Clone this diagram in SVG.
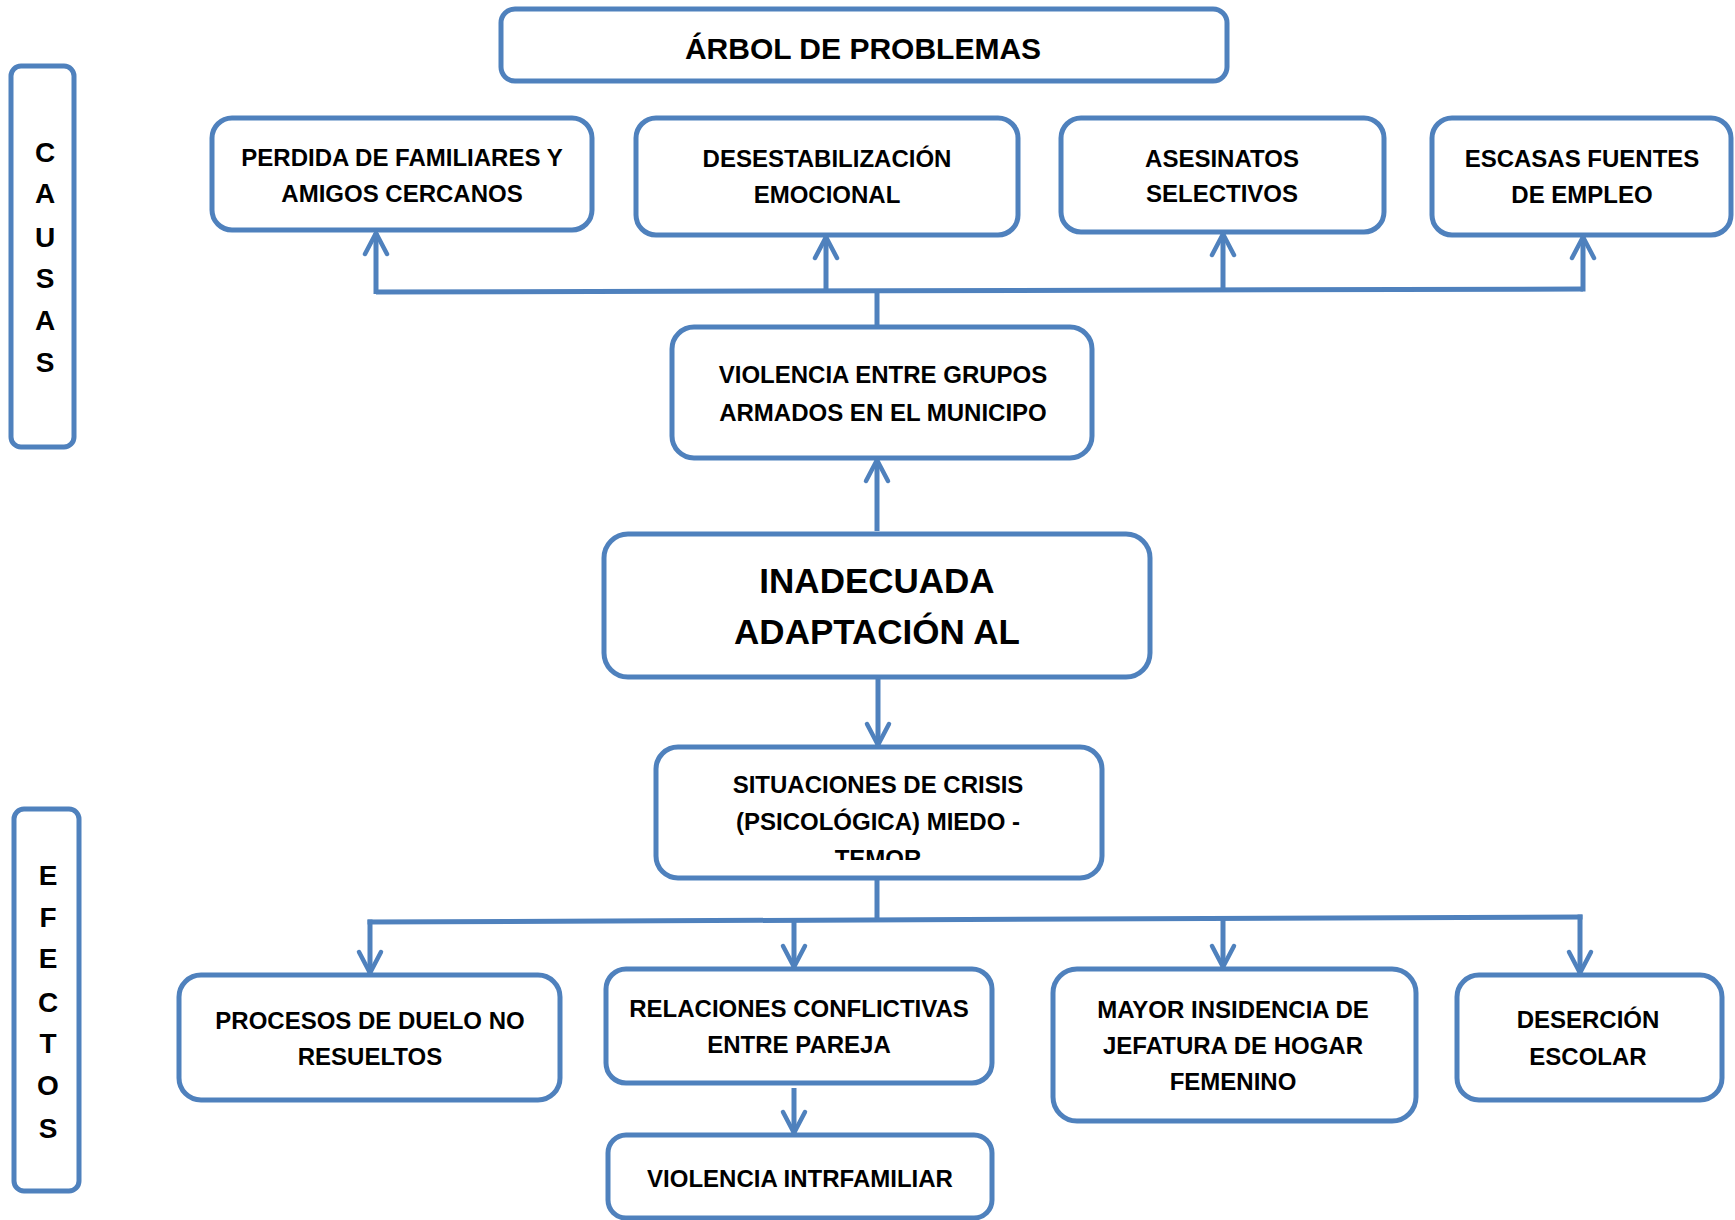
<svg xmlns="http://www.w3.org/2000/svg" width="1735" height="1220" viewBox="0 0 1735 1220">
<style>
.box{fill:#fff;stroke:#4F81BD;stroke-width:5}
.t{font-family:"Liberation Sans",Arial,sans-serif;font-weight:bold;font-size:24px;fill:#000;text-anchor:middle}
.title{font-size:30px}
.big{font-size:35px}
.side{font-size:28px}
.c{fill:none;stroke:#4F81BD;stroke-width:5;stroke-linecap:butt;stroke-linejoin:miter}
.a{marker-end:url(#arr)}
</style>
<defs>
<marker id="arr" markerUnits="userSpaceOnUse" markerWidth="40" markerHeight="40" refX="0" refY="0" orient="auto" viewBox="-30 -20 40 40" overflow="visible">
<path d="M-21,-11 L0,0 L-21,11" fill="none" stroke="#4F81BD" stroke-width="4.5" stroke-linecap="round" stroke-linejoin="miter"/>
</marker>
<clipPath id="clipSit"><rect x="656" y="747" width="446" height="113"/></clipPath>
</defs>

<g id="connectors">
<path class="c" d="M376,292 L1583,289"/>
<path class="c a" d="M376,294 L376,233"/>
<path class="c a" d="M826,291 L826,237"/>
<path class="c a" d="M1223,290 L1223,234"/>
<path class="c a" d="M1583,291.5 L1583,237"/>
<path class="c" d="M877,290 L877,326"/>
<path class="c a" d="M877,531 L877,460"/>
<path class="c a" d="M878,679 L878,745"/>
<path class="c" d="M877,880 L877,919"/>
<path class="c" d="M367.5,922 L1582.5,917"/>
<path class="c a" d="M370,919.5 L370,973"/>
<path class="c a" d="M794,920 L794,967"/>
<path class="c a" d="M1223,918 L1223,967"/>
<path class="c a" d="M1580,914.5 L1580,973"/>
<path class="c a" d="M794,1088 L794,1133"/>
</g>

<g id="title">
<rect class="box" x="501" y="9" width="726" height="72" rx="14"/>
<text class="t title" x="863" y="59">ÁRBOL DE PROBLEMAS</text>
</g>

<g id="causas">
<rect class="box" x="11" y="66" width="63" height="381" rx="10"/>
<text class="t side" x="45" y="162">C</text>
<text class="t side" x="45" y="203">A</text>
<text class="t side" x="45" y="247">U</text>
<text class="t side" x="45" y="288">S</text>
<text class="t side" x="45" y="330">A</text>
<text class="t side" x="45" y="372">S</text>
</g>

<g id="efectos">
<rect class="box" x="14" y="809" width="65" height="382" rx="10"/>
<text class="t side" x="48" y="885">E</text>
<text class="t side" x="48" y="927">F</text>
<text class="t side" x="48" y="968">E</text>
<text class="t side" x="48" y="1012">C</text>
<text class="t side" x="48" y="1053">T</text>
<text class="t side" x="48" y="1095">O</text>
<text class="t side" x="48" y="1138">S</text>
</g>

<g id="perdida">
<rect class="box" x="212" y="118" width="380" height="112" rx="20"/>
<text class="t" x="402" y="166">PERDIDA DE FAMILIARES Y</text>
<text class="t" x="402" y="202">AMIGOS CERCANOS</text>
</g>

<g id="desestabilizacion">
<rect class="box" x="636" y="118" width="382" height="117" rx="20"/>
<text class="t" x="827" y="167">DESESTABILIZACIÓN</text>
<text class="t" x="827" y="203">EMOCIONAL</text>
</g>

<g id="asesinatos">
<rect class="box" x="1061" y="118" width="323" height="114" rx="20"/>
<text class="t" x="1222" y="167">ASESINATOS</text>
<text class="t" x="1222" y="202">SELECTIVOS</text>
</g>

<g id="escasas">
<rect class="box" x="1432" y="118" width="299" height="117" rx="20"/>
<text class="t" x="1582" y="167">ESCASAS FUENTES</text>
<text class="t" x="1582" y="203">DE EMPLEO</text>
</g>

<g id="violencia-grupos">
<rect class="box" x="672" y="327" width="420" height="131" rx="22"/>
<text class="t" x="883" y="383">VIOLENCIA ENTRE GRUPOS</text>
<text class="t" x="883" y="421">ARMADOS EN EL MUNICIPO</text>
</g>

<g id="inadecuada">
<rect class="box" x="604" y="534" width="546" height="143" rx="24"/>
<text class="t big" x="877" y="593">INADECUADA</text>
<text class="t big" x="877" y="644">ADAPTACIÓN AL</text>
</g>

<g id="situaciones">
<rect class="box" x="656" y="747" width="446" height="131" rx="22"/>
<g clip-path="url(#clipSit)">
<text class="t" x="878" y="793">SITUACIONES DE CRISIS</text>
<text class="t" x="878" y="830">(PSICOLÓGICA) MIEDO -</text>
<text class="t" x="878" y="867">TEMOR</text>
</g>
</g>

<g id="procesos">
<rect class="box" x="179" y="975" width="381" height="125" rx="22"/>
<text class="t" x="370" y="1029">PROCESOS DE DUELO NO</text>
<text class="t" x="370" y="1065">RESUELTOS</text>
</g>

<g id="relaciones">
<rect class="box" x="606" y="969" width="386" height="114" rx="20"/>
<text class="t" x="799" y="1017">RELACIONES CONFLICTIVAS</text>
<text class="t" x="799" y="1053">ENTRE PAREJA</text>
</g>

<g id="violencia-intrafamiliar">
<rect class="box" x="608" y="1135" width="384" height="83" rx="18"/>
<text class="t" x="800" y="1187">VIOLENCIA INTRFAMILIAR</text>
</g>

<g id="mayor">
<rect class="box" x="1053" y="969" width="363" height="152" rx="24"/>
<text class="t" x="1233" y="1018">MAYOR INSIDENCIA DE</text>
<text class="t" x="1233" y="1054">JEFATURA DE HOGAR</text>
<text class="t" x="1233" y="1090">FEMENINO</text>
</g>

<g id="desercion">
<rect class="box" x="1457" y="975" width="265" height="125" rx="22"/>
<text class="t" x="1588" y="1028">DESERCIÓN</text>
<text class="t" x="1588" y="1065">ESCOLAR</text>
</g>
</svg>
